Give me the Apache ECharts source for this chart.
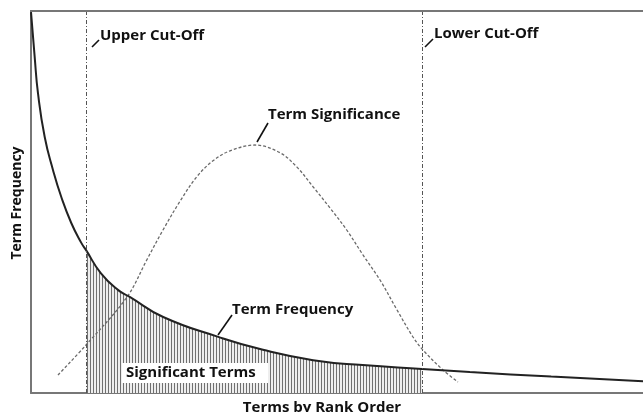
<!DOCTYPE html>
<html>
<head>
<meta charset="utf-8">
<script src="https://cdn.jsdelivr.net/npm/echarts@6/dist/echarts.min.js"></script>
<style>
  html, body { margin: 0; padding: 0; background: #fff; }
  #chart { width: 643px; height: 412px; }
</style>
</head>
<body>
<div id="chart"></div>
<script>
// Rank positions (0-100) and relative frequency (0-100) of the Zipf-like curve
const freqRank = [0, 0.6, 1.14, 2.24, 3.59, 4.95, 6.58, 8.22, 9.0, 11.4, 14.2, 16.2, 21.6, 30.6, 37.9, 46.1, 54.2, 63.9, 71.7, 85.0, 100];
const freqValue = [99.7, 88.0, 78.5, 67.0, 58.4, 51.3, 44.5, 39.3, 37.4, 31.4, 27.0, 25.1, 19.9, 14.7, 11.3, 8.6, 7.3, 6.3, 5.5, 4.3, 3.1];

// Bell-shaped term significance curve
const sigRank = [4.41, 8.99, 15.69, 18.91, 21.57, 24.35, 27.08, 29.74, 32.52, 36.60, 40.69, 43.42, 46.08, 48.86, 51.59, 54.25, 57.03, 59.75, 62.42, 64.05, 67.32, 69.77];
const sigValue = [4.71, 12.57, 25.13, 34.82, 42.67, 50.2, 56.6, 60.8, 63.4, 64.92, 62.9, 59.2, 54.0, 48.43, 42.67, 36.13, 29.58, 21.9, 14.66, 11.26, 6.02, 2.88];

// Upper and lower cut-off ranks
const upperCut = 9.0;
const lowerCut = 63.9;

const freqData = freqRank.map((r, i) => [r, freqValue[i]]);
const sigData = sigRank.map((r, i) => [r, sigValue[i]]);
const significantData = freqData.filter(d => d[0] >= upperCut && d[0] <= lowerCut);

// vertical hatch pattern for the significant-terms region
const hatch = document.createElement('canvas');
hatch.width = 3;
hatch.height = 8;
const hctx = hatch.getContext('2d');
hctx.fillStyle = '#eeeeee';
hctx.fillRect(0, 0, 3, 8);
hctx.fillStyle = '#707070';
hctx.fillRect(0, 0, 1, 8);

const FONT = '"Open Sans", Lato, sans-serif';
const chart = echarts.init(document.getElementById('chart'));

const labelText = (text, x, y, align) => ({
  type: 'text',
  x: x, y: y,
  style: {
    text: text,
    font: 'bold 15px ' + FONT,
    fill: '#111',
    textAlign: align || 'left',
    textVerticalAlign: 'middle'
  },
  z: 20
});

const leader = (x1, y1, x2, y2) => ({
  type: 'line',
  shape: { x1: x1, y1: y1, x2: x2, y2: y2 },
  style: { stroke: '#111', lineWidth: 1.6 },
  z: 20
});

const hiddenParts = {
  axisTick: { show: false }, axisLabel: { show: false }, splitLine: { show: false }
};

chart.setOption({
  animation: false,
  grid: { left: 31, right: 0, top: 11, bottom: 19 },
  xAxis: Object.assign({
    type: 'value', min: 0, max: 100,
    axisLine: { show: true, onZero: false, lineStyle: { color: '#777', width: 2 } }
  }, hiddenParts),
  yAxis: Object.assign({
    type: 'value', min: 0, max: 100,
    axisLine: { show: true, onZero: false, lineStyle: { color: '#777', width: 2 } }
  }, hiddenParts),
  series: [
    {
      type: 'line',
      data: significantData,
      smooth: 0.5,
      symbol: 'none',
      lineStyle: { width: 0 },
      areaStyle: { color: { image: hatch, repeat: 'repeat' }, opacity: 1 },
      z: 1
    },
    {
      type: 'line',
      data: sigData,
      smooth: 0.35,
      symbol: 'none',
      lineStyle: { color: '#6a6a6a', width: 1.3, type: [3, 2] },
      z: 3
    },
    {
      type: 'line',
      data: freqData,
      smooth: 0.5,
      symbol: 'none',
      lineStyle: { color: '#222', width: 2 },
      z: 4,
      markLine: {
        silent: true,
        symbol: 'none',
        label: { show: false },
        lineStyle: { color: '#555', width: 1, type: [4, 2, 1, 2] },
        data: [{ xAxis: upperCut }, { xAxis: lowerCut }]
      }
    }
  ],
  graphic: [
    // top edge of the frame
    {
      type: 'rect',
      shape: { x: 30, y: 10, width: 613, height: 2 },
      style: { fill: '#777' },
      z: 25
    },
    labelText('Upper Cut-Off', 100, 36),
    leader(92, 47, 99, 40),
    labelText('Lower Cut-Off', 434, 34),
    leader(425, 47, 433, 39),
    labelText('Term Significance', 268, 115),
    leader(257, 142, 268, 123),
    labelText('Term Frequency', 232, 310),
    leader(218, 335, 232, 315),
    {
      type: 'rect',
      shape: { x: 122, y: 363, width: 146, height: 20 },
      style: { fill: '#fff' },
      z: 19
    },
    labelText('Significant Terms', 126, 373),
    labelText('Terms by Rank Order', 322, 408, 'center'),
    {
      type: 'text',
      x: 17, y: 203,
      rotation: Math.PI / 2,
      style: {
        text: 'Term Frequency', font: 'bold 14px ' + FONT, fill: '#111',
        textAlign: 'center', textVerticalAlign: 'middle'
      },
      z: 20
    }
  ]
});
</script>
</body>
</html>
